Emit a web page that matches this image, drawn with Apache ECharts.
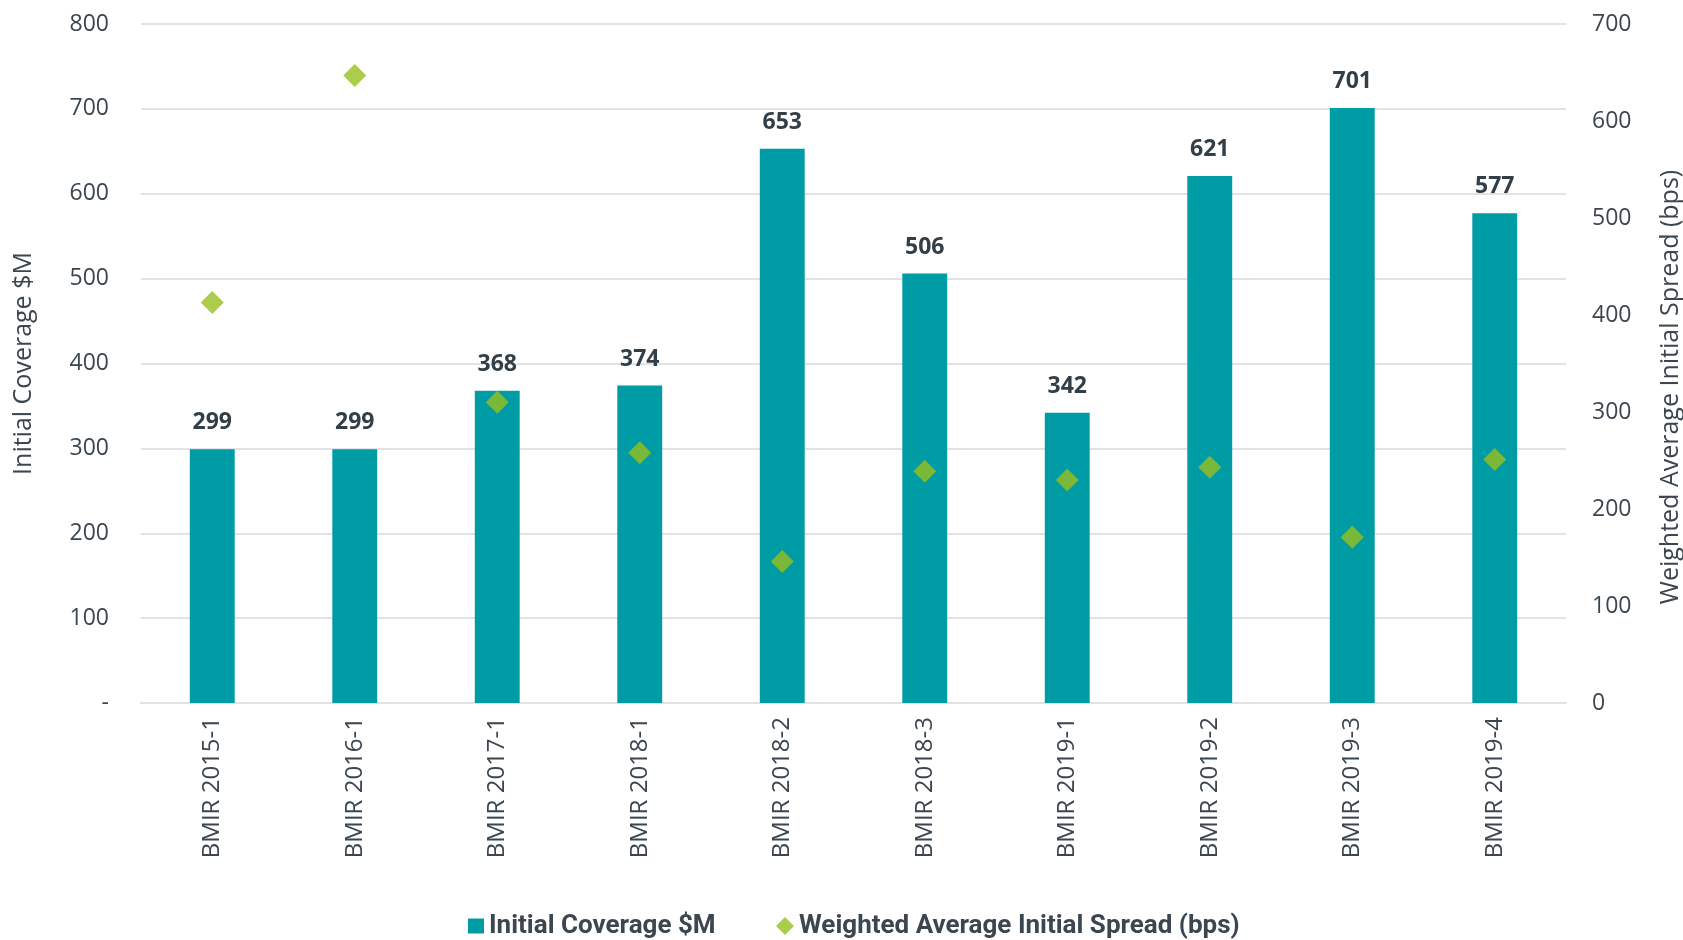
<!DOCTYPE html>
<html>
<head>
<meta charset="utf-8">
<script src="https://cdn.jsdelivr.net/npm/echarts@6/dist/echarts.min.js"></script>
<style>
    html, body { margin: 0; padding: 0; background: #fff; }
    #chart { width: 1683px; height: 940px; }
</style>
</head>
<body>
<div id="chart"></div>
<script>
// deals
var categories = ['BMIR 2015-1', 'BMIR 2016-1', 'BMIR 2017-1', 'BMIR 2018-1', 'BMIR 2018-2',
    'BMIR 2018-3', 'BMIR 2019-1', 'BMIR 2019-2', 'BMIR 2019-3', 'BMIR 2019-4'];
// initial coverage, $M
var coverage = [299, 299, 368, 374, 653, 506, 342, 621, 701, 577];
// weighted average initial spread, bps
var spread = [413, 647, 310, 258, 146, 239, 230, 243, 171, 251];

var textColor = '#3b4650';
var narrowFont = '"Liberation Sans Narrow", Roboto, sans-serif';

var legendText = {
    color: textColor,
    fontFamily: narrowFont,
    fontWeight: 'bold',
    fontSize: 26
};

var myChart = echarts.init(document.getElementById('chart'));
var option = {
    animation: false,
    grid: {
        left: 141,
        right: 117,
        top: 24,
        bottom: 237,
        containLabel: false,
        outerBoundsMode: 'none'
    },
    legend: [{
        left: 468,
        top: 913,
        padding: 0,
        itemWidth: 16,
        itemHeight: 15,
        textStyle: legendText,
        data: [{name: 'Initial Coverage $M', icon: 'rect'}]
    }, {
        left: 776,
        top: 913,
        padding: 0,
        itemWidth: 18,
        itemHeight: 18,
        textStyle: legendText,
        data: [{name: 'Weighted Average Initial Spread (bps)', icon: 'diamond'}]
    }],
    xAxis: {
        type: 'category',
        data: categories,
        axisLine: {lineStyle: {color: '#dfe3e6', width: 2}},
        axisTick: {show: false},
        axisLabel: {
            rotate: 90,
            margin: 14,
            color: textColor,
            fontFamily: '"Open Sans", sans-serif',
            fontSize: 24
        }
    },
    yAxis: [{
        type: 'value',
        min: 0,
        max: 800,
        interval: 100,
        name: 'Initial Coverage $M',
        nameLocation: 'middle',
        nameRotate: 90,
        nameGap: 105,
        nameTextStyle: {
            color: textColor,
            fontFamily: '"Open Sans", sans-serif',
            fontSize: 25
        },
        axisLine: {show: false},
        axisTick: {show: false},
        splitLine: {lineStyle: {color: '#dfe3e6', width: 2}},
        axisLabel: {
            margin: 32,
            color: textColor,
            fontFamily: '"Open Sans", sans-serif',
            fontSize: 23,
            formatter: function (v) { return v === 0 ? '-' : v; }
        }
    }, {
        type: 'value',
        min: 0,
        max: 700,
        interval: 100,
        name: 'Weighted Average Initial Spread (bps)',
        nameLocation: 'middle',
        nameRotate: 90,
        nameGap: 92,
        nameTextStyle: {
            color: textColor,
            fontFamily: '"Open Sans", sans-serif',
            fontSize: 25,
            // nudge the title down a little, like the original
            padding: [0, 47, 0, 0]
        },
        axisLine: {show: false},
        axisTick: {show: false},
        splitLine: {show: false},
        axisLabel: {
            margin: 26,
            color: textColor,
            fontFamily: '"Open Sans", sans-serif',
            fontSize: 23
        }
    }],
    series: [{
        name: 'Initial Coverage $M',
        type: 'bar',
        data: coverage,
        barWidth: '31.5%',
        itemStyle: {color: '#009ca6'},
        label: {
            show: true,
            position: 'top',
            distance: 15,
            color: '#333f48',
            fontFamily: '"Open Sans", sans-serif',
            fontWeight: 'bold',
            fontSize: 23
        }
    }, {
        name: 'Weighted Average Initial Spread (bps)',
        type: 'scatter',
        yAxisIndex: 1,
        data: spread,
        symbol: 'diamond',
        symbolSize: 23,
        itemStyle: {color: '#97bf1e'},
        z: 5
    }]
};
myChart.setOption(option);
</script>
</body>
</html>
